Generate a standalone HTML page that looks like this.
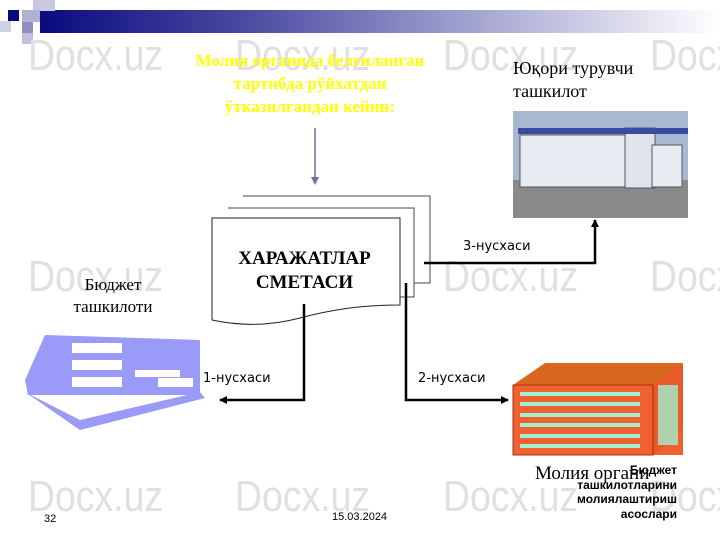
<!DOCTYPE html><html><head><meta charset="utf-8"><style>
body{margin:0;width:720px;height:540px;background:#fff;position:relative;overflow:hidden;font-family:"Liberation Serif",serif}
.a{position:absolute;white-space:nowrap}
.wm{position:absolute;font-family:"Liberation Sans",sans-serif;font-size:44px;color:#e0e0e0;transform:scaleX(.85);transform-origin:left}
</style></head><body>
<div class="a" style="left:40px;top:10px;width:680px;height:23px;background:linear-gradient(90deg,#0a0a80,#4a4aa0 30%,#9a9acc 60%,#fff)"></div>
<div class="a" style="left:8px;top:10px;width:11px;height:11px;background:#0a0a80"></div>
<div class="a" style="left:33px;top:0;width:22px;height:11px;background:#c8c8e0"></div>
<div class="a" style="left:22px;top:10px;width:18px;height:12px;background:#b0b0d4"></div>
<div class="a" style="left:0;top:21px;width:11px;height:11px;background:#d0d0e4"></div>
<div class="a" style="left:22px;top:22px;width:11px;height:11px;background:#9090c0"></div>
<div class="a" style="left:22px;top:33px;width:11px;height:11px;background:#c0c0dc"></div>
<span class="wm" style="left:28px;top:31px">Docx.uz</span><span class="wm" style="left:235px;top:31px">Docx.uz</span><span class="wm" style="left:443px;top:31px">Docx.uz</span><span class="wm" style="left:650px;top:31px">Docx.uz</span>
<span class="wm" style="left:28px;top:252px">Docx.uz</span><span class="wm" style="left:235px;top:252px">Docx.uz</span><span class="wm" style="left:443px;top:252px">Docx.uz</span><span class="wm" style="left:650px;top:252px">Docx.uz</span>
<span class="wm" style="left:28px;top:472px">Docx.uz</span><span class="wm" style="left:235px;top:472px">Docx.uz</span><span class="wm" style="left:443px;top:472px">Docx.uz</span><span class="wm" style="left:650px;top:472px">Docx.uz</span>
<div class="a" style="left:160px;top:49px;width:300px;text-align:center;color:#ffff00;font-weight:bold;font-size:17px;line-height:23px">Молия органида белгиланган<br>тартибда рўйхатдан<br>ўтказилгандан кейин:</div>
<div class="a" style="left:513px;top:57px;font-size:18px;line-height:23px">Юқори турувчи<br>ташкилот</div>
<div class="a" style="left:58px;top:274px;width:110px;text-align:center;font-size:17px;line-height:22px">Бюджет<br>ташкилоти</div>
<svg class="a" style="left:0;top:0" width="720" height="540">
<defs><marker id="m" markerWidth="8" markerHeight="8" refX="7" refY="4" orient="auto" markerUnits="userSpaceOnUse"><path d="M0,0L8,4L0,8z" fill="#000"/></marker></defs>
<line x1="315" y1="128" x2="315" y2="178" stroke="#7070a0" stroke-width="1.5"/><path d="M311,177L315,185L319,177z" fill="#7070a0"/>
<path d="M243,196H430V283H414" fill="#fff" stroke="#444"/>
<path d="M228,208H414V297H400" fill="#fff" stroke="#444"/>
<path d="M212,218H400V305C360,305 330,310 300,318C270,326 240,326 212,320Z" fill="#fff" stroke="#222"/>
<path d="M304,304V400H220" fill="none" stroke="#000" stroke-width="2.5" marker-end="url(#m)"/>
<path d="M406,283V400H508" fill="none" stroke="#000" stroke-width="2.5" marker-end="url(#m)"/>
<path d="M424,263H595V220" fill="none" stroke="#000" stroke-width="2.5" marker-end="url(#m)"/>
<rect x="513" y="111" width="175" height="107" fill="#a8b8d0"/>
<rect x="513" y="180" width="175" height="38" fill="#8a8a8a"/>
<rect x="520" y="135" width="110" height="52" fill="#e8ecf2" stroke="#556"/>
<rect x="625" y="128" width="30" height="60" fill="#dfe4ec" stroke="#556"/>
<rect x="652" y="145" width="30" height="42" fill="#e8ecf2" stroke="#556"/>
<rect x="518" y="128" width="170" height="6" fill="#3a4aa0"/>
<polygon points="513,425 545,363 683,363 683,455 513,455" fill="#f06030"/>
<polygon points="545,363 683,363 653,385 513,385" fill="#d86820"/>
<polygon points="653,385 683,363 683,430 653,455" fill="#e85a28"/>
<rect x="513" y="385" width="140" height="70" fill="#f06030" stroke="#a03010"/>
<g fill="#a0f0d0">
<rect x="520" y="392" width="120" height="4"/><rect x="520" y="402" width="120" height="4"/><rect x="520" y="413" width="120" height="4"/><rect x="520" y="423" width="120" height="4"/><rect x="520" y="434" width="120" height="4"/><rect x="520" y="444" width="120" height="4"/>
<rect x="658" y="385" width="20" height="60" opacity=".8"/></g>
<g fill="#9a9af8">
<polygon points="25,380 45,335 200,340 200,395 28,395"/>
<polygon points="25,392 80,430 205,398 200,392 80,420"/>
</g>
<g fill="#fff"><rect x="72" y="343" width="50" height="10"/><rect x="72" y="360" width="50" height="10"/><rect x="72" y="377" width="50" height="10"/><rect x="135" y="370" width="45" height="7"/><rect x="158" y="378" width="35" height="9"/></g>
</svg>
<div class="a" style="left:212px;top:247px;width:185px;text-align:center;font-weight:bold;font-size:19px;line-height:24px">ХАРАЖАТЛАР<br>СМЕТАСИ</div>
<div class="a" style="left:463px;top:239px;font-family:'DejaVu Sans',sans-serif;font-size:13px">3-нусхаси</div>
<div class="a" style="left:203px;top:371px;font-family:'DejaVu Sans',sans-serif;font-size:13px">1-нусхаси</div>
<div class="a" style="left:418px;top:371px;font-family:'DejaVu Sans',sans-serif;font-size:13px">2-нусхаси</div>
<div class="a" style="left:535px;top:463px;font-size:19px">Молия органи</div>
<div class="a" style="left:540px;top:463px;width:137px;text-align:right;font-family:'Liberation Sans',sans-serif;font-weight:bold;font-size:12px;line-height:14.5px">Бюджет<br>ташкилотларини<br>молиялаштириш<br>асослари</div>
<div class="a" style="left:44px;top:513px;font-family:'Liberation Sans',sans-serif;font-size:11px">32</div>
<div class="a" style="left:332px;top:511px;font-family:'Liberation Sans',sans-serif;font-size:11px">15.03.2024</div>
</body></html>
